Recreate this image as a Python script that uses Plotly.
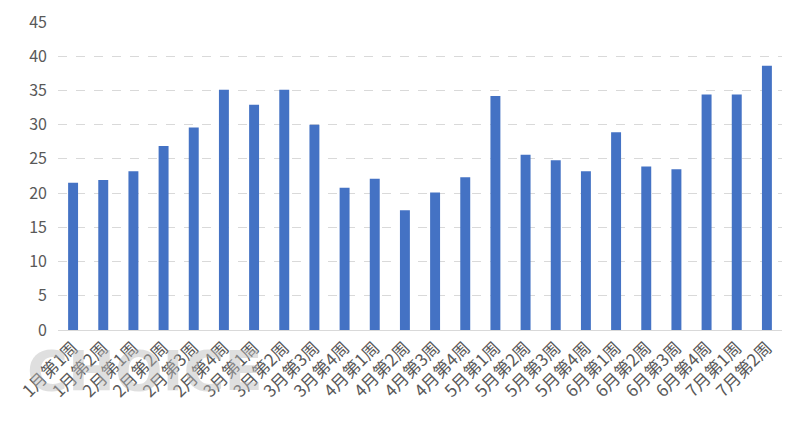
import plotly.graph_objects as go

weeks = [
    "1月第1周", "1月第2周", "2月第1周", "2月第2周", "2月第3周", "2月第4周",
    "3月第1周", "3月第2周", "3月第3周", "3月第4周", "4月第1周", "4月第2周",
    "4月第3周", "4月第4周", "5月第1周", "5月第2周", "5月第3周", "5月第4周",
    "6月第1周", "6月第2周", "6月第3周", "6月第4周", "7月第1周", "7月第2周",
]
values = [
    21.5, 21.9, 23.2, 26.9, 29.6, 35.1,
    32.9, 35.1, 30.0, 20.8, 22.1, 17.5,
    20.1, 22.3, 34.2, 25.6, 24.8, 23.2,
    28.9, 23.9, 23.5, 34.4, 34.4, 38.6,
]
y_ticks = [0, 5, 10, 15, 20, 25, 30, 35, 40, 45]

FONT = "Noto Sans CJK SC, Microsoft YaHei, sans-serif"

fig = go.Figure(go.Bar(
    x=weeks,
    y=values,
    marker=dict(color="#4472C4", line=dict(width=0)),
))

# faint watermark behind the category labels
fig.add_annotation(
    text="<b>CHOICE</b>", xref="paper", yref="paper", x=0.12, y=-0.13,
    xanchor="center", yanchor="middle",
    showarrow=False,
    font=dict(family="DejaVu Sans, sans-serif", size=56,
              color="rgba(185,185,185,0.45)"),
)

# page body adds an 8px offset, so margins are trimmed on top/left
fig.update_layout(
    width=810, height=432,
    margin=dict(l=50, r=36, t=14, b=110),
    paper_bgcolor="white",
    plot_bgcolor="white",
    bargap=0.67,
    showlegend=False,
    font=dict(family=FONT, color="#595959"),
    xaxis=dict(
        tickangle=-45,
        tickfont=dict(size=17, color="#595959"),
        showline=True, linecolor="#d9d9d9", linewidth=1,
        showgrid=False, ticks="", automargin=False,
    ),
    yaxis=dict(
        range=[0, 45],
        tickvals=y_ticks,
        tickfont=dict(size=16, color="#595959"),
        showgrid=True, gridcolor="#d9d9d9", griddash="dash", gridwidth=1,
        zeroline=False, showline=False, ticks="",
        ticklabelstandoff=10, automargin=False,
    ),
)

fig.write_html("out.html")
